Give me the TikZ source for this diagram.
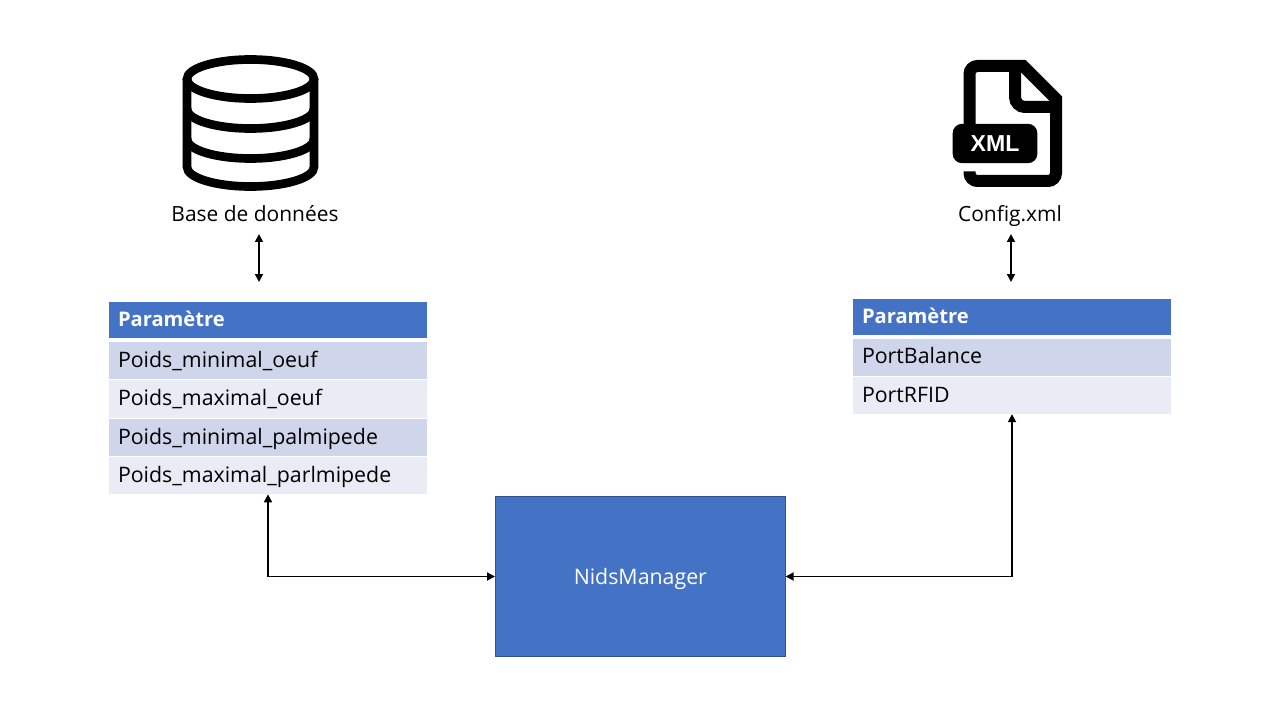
\documentclass[tikz,border=0pt]{standalone}
\usepackage{fontspec}
\setmainfont{Open Sans}
\newfontfamily\iconfont{Liberation Sans}
\usetikzlibrary{positioning}
\usetikzlibrary{arrows.meta}
\definecolor{bluehead}{HTML}{4472C4}
\definecolor{blueedge}{HTML}{2F528F}
\definecolor{rowdark}{HTML}{CFD5EA}
\definecolor{rowlight}{HTML}{E9EBF5}

\begin{document}
\begin{tikzpicture}[
    x=0.75pt, y=-0.75pt,
    node distance=3pt,
    tablecell/.style={rectangle, outer sep=0pt, inner xsep=6.75pt, inner ysep=0pt,
                text width=225pt, text height=13.5pt, text depth=3.5pt,
                minimum height=28pt, align=left, font=\fontsize{16}{18}\selectfont},
    tablehead/.style={tablecell, fill=bluehead, text=white, minimum height=27pt,
                font=\fontsize{15.1}{18}\selectfont\bfseries},
    celldark/.style={tablecell, fill=rowdark, text=black},
    celllight/.style={tablecell, fill=rowlight, text=black},
    caption/.style={font=\fontsize{15.7}{18}\selectfont, text=black},
    icon/.style={line width=6.5pt, draw=black},
    fileicon/.style={line width=9pt, draw=black},
    link/.style={line width=1.3pt, draw=black, {Stealth[length=6pt,width=6pt,inset=0pt]}-{Stealth[length=6pt,width=6pt,inset=0pt]}},
    manager/.style={draw=blueedge, line width=0.6pt, fill=bluehead, text=white,
                minimum width=218pt, minimum height=120pt, outer sep=0pt, text depth=0pt,
                font=\fontsize{16}{18}\selectfont}
  ]
    \useasboundingbox (0,0) rectangle (1280,720);

    % Base de donnees
    \draw[icon] (250.5,79) ellipse [x radius=63.5, y radius=19.5];
    \draw[icon] (187,79) -- (187,167) arc [start angle=180, end angle=0, x radius=63.5, y radius=19.5] -- (314,79);
    \draw[icon] (187,109) arc [start angle=180, end angle=0, x radius=63.5, y radius=19.5];
    \draw[icon] (187,139) arc [start angle=180, end angle=0, x radius=63.5, y radius=19.5];
    \node[caption] (dblabel) at (255,214) {Base de données};

    % Config.xml
    \draw[fileicon] (969.5,130) -- (969.5,74) arc [start angle=180, end angle=270, radius=8]
      -- (1023,66) -- (1056,99) -- (1056,173) arc [start angle=0, end angle=90, radius=8]
      -- (977.5,181) arc [start angle=90, end angle=180, radius=8] -- (969.5,171.5);
    \draw[fileicon] (1015,66) -- (1015,97) arc [start angle=180, end angle=90, radius=10] -- (1056,107);
    \node[fill=black, text=white, rounded corners=7pt, minimum width=63.5pt, minimum height=29.5pt,
          inner sep=0pt, font=\iconfont\fontsize{17.3}{18}\selectfont\bfseries] (xmlbadge) at (995,143.5) {XML};
    \node[caption] (xmllabel) at (1010,216) {Config.xml};

    % Table de gauche
    \node[tablehead, anchor=north west] (dbhead) at (109,302) {Paramètre};
    \node[celldark, below=3pt of dbhead] (minoeuf) {Poids\_minimal\_oeuf};
    \node[celllight, below=0.75pt of minoeuf] (maxoeuf) {Poids\_maximal\_oeuf};
    \node[celldark, below=0.75pt of maxoeuf] (minpalm) {Poids\_minimal\_palmipede};
    \node[celllight, below=0.75pt of minpalm] (maxpalm) {Poids\_maximal\_parlmipede};

    % Table de droite
    \node[tablehead, anchor=north west] (xmlhead) at (853,298.5) {Paramètre};
    \node[celldark, below=3pt of xmlhead] (portbal) {PortBalance};
    \node[celllight, below=0.75pt of portbal] (portrfid) {PortRFID};

    % Bloc central
    \node[manager, anchor=north west] (nids) at (495,496.5) {NidsManager};

    % Extremites libres
    \coordinate (dbtop) at (259,234);
    \coordinate (dbbot) at (259,282);
    \coordinate (xmltop) at (1011,234);
    \coordinate (xmlbot) at (1011,282);

    % Liaisons
    \draw[link] (dbtop) -- (dbbot);
    \draw[link] (xmltop) -- (xmlbot);
    \draw[link] (maxpalm.south) |- (nids.west);
    \draw[link] (portrfid.south) |- (nids.east);

  \end{tikzpicture}
\end{document}
